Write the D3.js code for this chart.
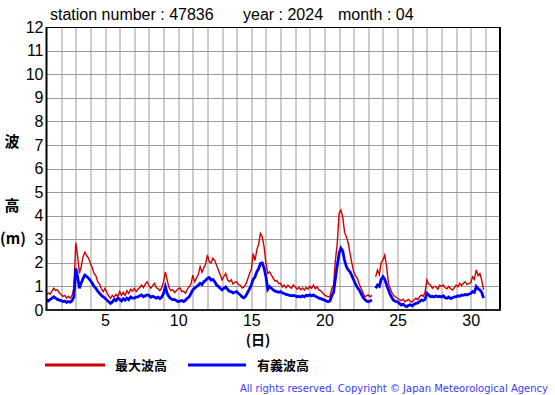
<!DOCTYPE html>
<html>
<head>
<meta charset="utf-8">
<script src="https://cdn.jsdelivr.net/npm/d3@7"></script>
<style>
  body { margin: 0; background: #fff; }
  svg { display: block; font-family: "Liberation Sans", Arial, sans-serif; }
  .jp { font-family: "Noto Sans CJK JP", sans-serif; font-weight: bold; }
</style>
</head>
<body>
<svg id="chart" width="555" height="395"></svg>
<script>
// title parts
const station = "47836";
const year = "2024";
const month = "04";

// 3-hourly values, 8 per day, starting 1st 00:00 (null = missing)
const maxWave = [
  0.65, 0.72, 0.68, 0.80, 0.92, 0.82, 0.86, 0.72,
  0.66, 0.58, 0.62, 0.50, 0.58, 0.50, 0.62, 0.95,
  2.85, 2.30, 1.55, 1.85, 2.26, 2.45, 2.30, 2.20,
  1.98, 1.80, 1.55, 1.45, 1.20, 1.10, 0.90, 0.78,
  0.92, 0.75, 0.60, 0.50, 0.62, 0.55, 0.66, 0.58,
  0.78, 0.62, 0.75, 0.62, 0.82, 0.70, 0.88, 0.80,
  0.92, 0.78, 0.88, 0.95, 1.06, 0.95, 1.10, 1.20,
  1.05, 0.92, 1.02, 1.13, 0.95, 0.90, 0.82, 0.95,
  1.20, 1.62, 1.27, 0.95, 0.82, 0.86, 0.74, 0.82,
  0.90, 0.94, 0.78, 0.80, 0.71, 0.88, 0.99, 1.10,
  1.48, 1.20, 1.35, 1.50, 1.84, 1.60, 1.78, 1.95,
  2.33, 2.05, 2.00, 2.20, 2.10, 1.90, 1.70, 1.50,
  1.27, 1.42, 1.55, 1.28, 1.20, 1.28, 1.10, 1.18,
  1.20, 1.08, 1.05, 0.93, 0.98, 1.10, 1.30, 1.55,
  1.70, 2.40, 2.10, 2.54, 2.80, 3.25, 3.10, 2.68,
  1.98, 1.55, 1.62, 1.48, 1.34, 1.22, 1.25, 1.12,
  1.13, 0.98, 1.06, 0.94, 1.05, 0.98, 0.92, 1.06,
  0.98, 0.88, 0.96, 0.86, 0.93, 0.84, 0.95, 0.88,
  1.00, 0.92, 1.06, 0.90, 0.98, 0.84, 0.82, 0.72,
  0.64, 0.60, 0.56, 0.58, 0.90, 1.06, 2.12, 2.83,
  4.10, 4.24, 3.95, 3.30, 3.10, 2.83, 2.40, 1.98,
  1.62, 1.45, 1.34, 1.10, 0.92, 0.75, 0.56, 0.60,
  0.64, 0.56, 0.62, null, 1.41, 1.70, 1.50, 2.00,
  2.12, 2.33, 1.84, 1.13, 0.90, 0.72, 0.60, 0.55,
  0.50, 0.44, 0.40, 0.46, 0.35, 0.40, 0.45, 0.35,
  0.35, 0.42, 0.50, 0.44, 0.56, 0.64, 0.58, 0.75,
  1.27, 1.10, 1.06, 0.92, 1.00, 0.99, 0.88, 1.05,
  1.00, 1.06, 0.94, 0.90, 1.00, 0.90, 0.85, 0.95,
  1.06, 0.98, 1.13, 1.03, 1.13, 1.20, 1.08, 1.13,
  1.15, 1.41, 1.30, 1.70, 1.45, 1.55, 1.27, 0.85
];

const sigWave = [
  0.42, 0.38, 0.45, 0.50, 0.56, 0.50, 0.45, 0.42,
  0.40, 0.36, 0.38, 0.32, 0.36, 0.33, 0.40, 0.56,
  1.77, 1.41, 0.92, 1.15, 1.34, 1.48, 1.42, 1.35,
  1.25, 1.13, 1.00, 0.92, 0.80, 0.71, 0.62, 0.56,
  0.50, 0.42, 0.35, 0.28, 0.34, 0.45, 0.40, 0.50,
  0.45, 0.38, 0.48, 0.42, 0.50, 0.44, 0.55, 0.50,
  0.50, 0.55, 0.56, 0.60, 0.64, 0.56, 0.60, 0.64,
  0.62, 0.54, 0.58, 0.55, 0.50, 0.54, 0.48, 0.55,
  0.70, 0.99, 0.70, 0.56, 0.48, 0.44, 0.45, 0.40,
  0.35, 0.38, 0.40, 0.36, 0.42, 0.50, 0.56, 0.70,
  0.85, 0.92, 0.99, 1.05, 1.13, 1.08, 1.20, 1.25,
  1.34, 1.38, 1.27, 1.30, 1.20, 1.06, 1.00, 0.92,
  0.85, 0.92, 0.98, 0.88, 0.80, 0.78, 0.72, 0.75,
  0.78, 0.70, 0.64, 0.55, 0.52, 0.60, 0.75, 0.90,
  1.06, 1.30, 1.40, 1.62, 1.75, 1.98, 2.00, 1.77,
  1.41, 0.88, 0.99, 0.92, 0.85, 0.80, 0.78, 0.75,
  0.78, 0.72, 0.70, 0.66, 0.64, 0.62, 0.60, 0.62,
  0.60, 0.56, 0.58, 0.55, 0.60, 0.56, 0.62, 0.60,
  0.64, 0.60, 0.64, 0.58, 0.55, 0.50, 0.48, 0.45,
  0.42, 0.38, 0.35, 0.38, 0.60, 0.75, 1.34, 1.90,
  2.40, 2.62, 2.50, 2.10, 1.84, 1.70, 1.62, 1.45,
  1.27, 1.10, 0.95, 0.85, 0.70, 0.55, 0.45, 0.38,
  0.35, 0.38, 0.42, null, 0.92, 1.06, 1.00, 1.30,
  1.41, 1.30, 1.06, 0.85, 0.65, 0.50, 0.40, 0.36,
  0.35, 0.28, 0.21, 0.25, 0.18, 0.14, 0.20, 0.22,
  0.18, 0.24, 0.28, 0.30, 0.35, 0.42, 0.40, 0.45,
  0.71, 0.64, 0.56, 0.58, 0.55, 0.60, 0.56, 0.58,
  0.55, 0.60, 0.52, 0.50, 0.55, 0.48, 0.52, 0.56,
  0.56, 0.60, 0.58, 0.64, 0.62, 0.66, 0.64, 0.68,
  0.70, 0.78, 0.75, 0.99, 0.90, 0.85, 0.75, 0.50
];

const xTickLabels = [5, 10, 15, 20, 25, 30];
const yTickLabels = d3.range(0, 13);
const stepsPerDay = 8;

class WaveChart {
  margin = { top: 27, right: 55, bottom: 85, left: 46.5 };

  constructor(id, width = 555, height = 395) {
    this.svg = d3.select(id);
    this.width = width - this.margin.left - this.margin.right;
    this.height = height - this.margin.top - this.margin.bottom;
  }

  initialize() {
    this.xScale = d3.scaleLinear().domain([1, 32]).range([0, this.width]);
    this.yScale = d3.scaleLinear().domain([0, 12]).range([this.height, 0]);

    this.container = this.svg.append("g")
      .attr("transform", `translate(${this.margin.left}, ${this.margin.top})`);

    // grid
    this.container.append("g")
      .selectAll("line")
      .data(d3.range(2, 32))
      .join("line")
      .attr("x1", (d) => Math.round(this.xScale(d)) + 0.5)
      .attr("x2", (d) => Math.round(this.xScale(d)) + 0.5)
      .attr("y1", 0)
      .attr("y2", this.height)
      .attr("stroke", "#9a9a9a");

    this.container.append("g")
      .selectAll("line")
      .data(d3.range(1, 12))
      .join("line")
      .attr("x1", 0)
      .attr("x2", this.width)
      .attr("y1", (d) => Math.round(this.yScale(d)) + 0.5)
      .attr("y2", (d) => Math.round(this.yScale(d)) + 0.5)
      .attr("stroke", "#9a9a9a");
  }

  update() {
    const line = d3.line()
      .defined((d) => d != null)
      .x((d, i) => this.xScale(1 + i / stepsPerDay))
      .y((d) => this.yScale(d));

    this.container.append("path")
      .attr("d", line(maxWave))
      .attr("fill", "none")
      .attr("stroke", "#d00000")
      .attr("stroke-width", 1.4);

    this.container.append("path")
      .attr("d", line(sigWave))
      .attr("fill", "none")
      .attr("stroke", "#0000ff")
      .attr("stroke-width", 2.8);

    // frame
    const w = this.width, h = this.height;
    const frame = this.container.append("g").attr("stroke", "#000");
    frame.append("line").attr("x1", 0).attr("x2", w).attr("y1", 0.5).attr("y2", 0.5);
    frame.append("line").attr("x1", 0).attr("x2", 0).attr("y1", 0).attr("y2", h).attr("stroke-width", 2);
    frame.append("line").attr("x1", w).attr("x2", w).attr("y1", 0).attr("y2", h + 1).attr("stroke-width", 2);
    frame.append("line").attr("x1", -1).attr("x2", w + 1).attr("y1", h).attr("y2", h).attr("stroke-width", 2).attr("stroke", "#222");

    // axes labels
    const yAxis = d3.axisLeft(this.yScale).tickValues(yTickLabels).tickSize(0).tickPadding(3);
    this.container.append("g")
      .call(yAxis)
      .call((g) => g.select(".domain").remove())
      .selectAll("text")
      .attr("font-size", 16)
      .attr("font-family", "Liberation Sans, Arial, sans-serif")
      .attr("fill", "#000");

    const xAxis = d3.axisBottom(this.xScale).tickValues(xTickLabels).tickSize(0).tickPadding(5);
    this.container.append("g")
      .attr("transform", `translate(0, ${h})`)
      .call(xAxis)
      .call((g) => g.select(".domain").remove())
      .selectAll("text")
      .attr("font-size", 16)
      .attr("font-family", "Liberation Sans, Arial, sans-serif")
      .attr("fill", "#000");
  }
}

const chart = new WaveChart("#chart");
chart.initialize();
chart.update();

const svg = d3.select("#chart");

// title
const title = svg.append("g").attr("font-size", 16);
title.append("text").attr("x", 50).attr("y", 20).text(`station number : ${station}`);
title.append("text").attr("x", 243).attr("y", 20).text(`year : ${year}`);
title.append("text").attr("x", 338).attr("y", 20).text(`month : ${month}`);

// y label
const ylab = svg.append("g").attr("class", "jp").attr("font-size", 15).attr("text-anchor", "middle");
ylab.append("text").attr("x", 12).attr("y", 147).text("波");
ylab.append("text").attr("x", 12).attr("y", 211).text("高");
ylab.append("text").attr("x", 13).attr("y", 244).text("(m)");

// x label
svg.append("text").attr("class", "jp").attr("font-size", 14)
  .attr("text-anchor", "middle").attr("x", 258).attr("y", 345).text("(日)");

// legend
const legend = svg.append("g");
legend.append("line").attr("x1", 45).attr("x2", 105).attr("y1", 365).attr("y2", 365)
  .attr("stroke", "#cc0000").attr("stroke-width", 3);
legend.append("text").attr("class", "jp").attr("font-size", 13).attr("x", 115).attr("y", 370).text("最大波高");
legend.append("line").attr("x1", 188).attr("x2", 246).attr("y1", 365).attr("y2", 365)
  .attr("stroke", "#0000ff").attr("stroke-width", 3);
legend.append("text").attr("class", "jp").attr("font-size", 13).attr("x", 257).attr("y", 370).text("有義波高");

// copyright
svg.append("text")
  .attr("x", 240).attr("y", 392)
  .attr("font-size", 10)
  .attr("font-family", "DejaVu Sans, sans-serif")
  .attr("fill", "#3a3aff")
  .attr("textLength", 308)
  .attr("lengthAdjust", "spacing")
  .text("All rights reserved. Copyright © Japan Meteorological Agency");
</script>
</body>
</html>
